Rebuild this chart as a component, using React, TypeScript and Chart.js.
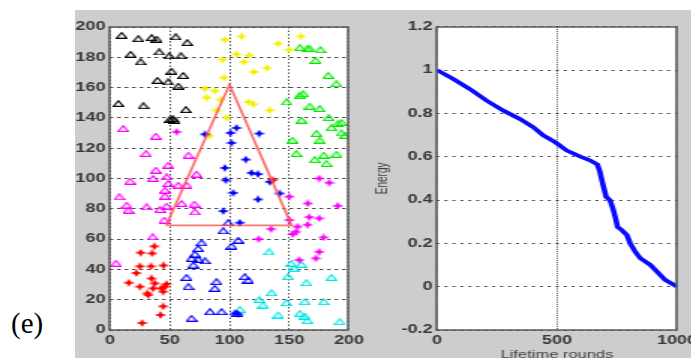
import React, { useEffect, useRef } from 'react';
import { Chart, registerables } from 'chart.js';
Chart.register(...registerables);

// ---------- data (left: node map, right: energy curve) ----------
const blackTriangles = [[9.7,194.5],[23.7,192.3],[34.8,193],[39,192],[55,193.5],[64.6,189.7],[17.3,182],[25.6,177],[41.2,183.5],[49.6,181],[59.3,181],[51.5,170.8],[61.3,168],[39.6,164.8],[48.7,163.7],[57.1,161],[7,149.5],[27.9,148],[63.5,145.5],[50.1,139],[52.5,139.5],[54,138.5]];
const magentaTriangles = [[11.1,133],[38.2,127.9],[30.1,116.5],[38.4,105.5],[48.7,108.8],[65.5,115.4],[72.4,102.9],[16.7,98.2],[36.1,100],[47.4,101.1],[48.7,96.7],[57.1,95.6],[64,95.6],[46,92.3],[46,88.4],[7.8,87.9],[13.9,82.4],[15.3,79.1],[30.6,81.3],[41.8,79.6],[47.4,81.8],[59.9,83.5],[70.5,83.1],[71,78],[45.4,72.5],[35.7,61.5],[5,44]];
const magentaStars = [[55.7,130.8],[150,88],[175,100],[183.5,97.2],[190.5,82],[165.5,83.5],[166.7,74.5],[175,73.7],[165.3,69.5],[156.9,68.2],[155.6,64.8],[152.8,63.3],[150,72.6],[134.7,66.6],[124.4,60],[178.6,61.1],[175,51.6],[172.2,47.3],[158.3,46.2]];
const redStars = [[37,55.2],[25.7,51],[35.2,50.6],[25,42],[34.3,42],[44.7,42.6],[22,37.6],[34.7,34],[15.7,31.2],[37.5,30.8],[45.8,28.6],[47.2,30.3],[43,27.5],[25,28.6],[36.1,27.5],[31.2,24.2],[44.4,25.3],[31.9,23.1],[44.4,15.6],[42.2,9.9],[26.8,4.6],[136,99]];
const blueTriangles = [[98.9,70.8],[94.7,65.5],[107.2,59.3],[101.7,55.4],[76.6,57.6],[73.8,53.8],[71,50.1],[68.2,47.3],[73.8,46.6],[79.4,45.7],[69.6,42.9],[64,34.7],[65.5,28.6],[89.1,31.9],[87.7,27.5],[112.8,35.2],[115.6,33],[83.6,12.1],[93.3,12.1],[105.8,11],[68.2,7.7]];
const blueStars = [[79.4,129.2],[105.8,133.4],[100.8,130.1],[101.7,123.5],[124.8,129.7],[113.6,112.5],[96.1,107],[118.4,103.7],[123.9,102.9],[96.9,98.9],[133.7,97.8],[103.1,90.5],[123.9,86.2],[142,90.1],[94.7,78.5],[108.6,70.8],[104.5,11],[107,10.5]];
const yellowStars = [[96.1,191.6],[110,193.8],[140.7,189],[149.9,185],[159.6,193.8],[94.2,178.5],[105.8,182],[116.4,181.3],[112,176.9],[120.3,170.3],[131.5,173],[95.3,166.6],[79.4,159.3],[87.7,157.8],[80.8,153.4],[89.1,145],[115.9,150.5],[120,149],[133.7,145],[97.5,140.2],[83,128.1],[92.5,152]];
const greenTriangles = [[158.8,186.4],[164.9,185.7],[167.1,185.7],[176,185],[172.1,178],[182.5,168],[189.4,162.6],[158.8,155],[161.6,156],[147.6,150.5],[167.1,147.7],[175.5,146.2],[160.2,138.5],[183,140.2],[190.8,136.3],[185.2,133.6],[172.7,129.7],[193.6,130.1],[196.4,128.6],[152.6,125.3],[175.5,125.3],[155.9,116.5],[189.4,116],[178.8,115.4],[171.3,112.5],[181,109.9],[193.6,137]];
const cyanTriangles = [[133.1,51.6],[151.8,44],[153.6,40.7],[160.2,43.3],[149,35.2],[164.3,31.2],[185.2,34.7],[135,24.6],[124.8,20.2],[128.1,16.5],[147.6,18],[163,18.7],[178.8,18.7],[140.7,9.9],[158.8,11],[163,9.2],[165,6.2],[192.2,5.5],[108.6,13.6]];
const regionTriangle = [[47,69],[100,162],[152,69],[47,69]];

const rounds = [0,67,137,206,276,345,401,443,492,540,596,638,668,677,687,694,705,721,735,746,752,770,791,805,826,847,889,916,951,993,1000];
const energy = [1,0.959,0.912,0.859,0.813,0.774,0.736,0.698,0.667,0.629,0.601,0.583,0.564,0.537,0.491,0.46,0.414,0.399,0.353,0.307,0.276,0.261,0.238,0.2,0.161,0.131,0.1,0.07,0.031,0.005,0];

const leftXTicks = [0, 50, 100, 150, 200];
const leftYTicks = [0, 20, 40, 60, 80, 100, 120, 140, 160, 180, 200];
const rightXTicks = [0, 500, 1000];
const rightYTicks = [-0.2, 0, 0.2, 0.4, 0.6, 0.8, 1, 1.2];

// ---------- styling helpers ----------
const SX = 1.5;
const tickFont = { family: '"Liberation Sans", Arial, sans-serif', size: 12, weight: 'bold' as const };
const tickColor = '#383838';

function makeTriangle(color: string) {
  const c = document.createElement('canvas');
  c.width = 8; c.height = 7;
  const g = c.getContext('2d')!;
  g.strokeStyle = color; g.lineWidth = 1.2;
  g.beginPath(); g.moveTo(0.7, 6.3); g.lineTo(4, 0.8); g.lineTo(7.3, 6.3); g.closePath(); g.stroke();
  return c;
}
function makeStar(color: string) {
  const c = document.createElement('canvas');
  c.width = 8; c.height = 8;
  const g = c.getContext('2d')!;
  g.fillStyle = color;
  g.beginPath();
  for (let i = 0; i < 8; i++) {
    const a = (i * Math.PI) / 4 - Math.PI / 2;
    const r = i % 2 === 0 ? 4 : 1.7;
    g.lineTo(4 + r * Math.cos(a), 4 + r * Math.sin(a));
  }
  g.closePath(); g.fill();
  return c;
}

const frame = {
  id: 'frame',
  beforeDraw(chart: any) {
    const { ctx, chartArea: a } = chart;
    ctx.save(); ctx.fillStyle = '#ffffff';
    ctx.fillRect(a.left, a.top, a.right - a.left, a.bottom - a.top);
    ctx.restore();
  },
  afterDatasetsDraw(chart: any) {
    const { ctx, chartArea: a } = chart;
    ctx.save();
    ctx.setLineDash([]);
    ctx.strokeStyle = '#5a5a5a'; ctx.lineWidth = 1.5;
    ctx.strokeRect(Math.round(a.left), Math.round(a.top), Math.round(a.right - a.left), Math.round(a.bottom - a.top));
    ctx.restore();
  },
};

const pts = (arr: number[][]) => arr.map(([x, y]) => ({ x, y }));
const fixedTicks = (list: number[]) => (axis: any) => { axis.ticks = list.map((v) => ({ value: v })); };
const fmt = (v: any) => String(Number(Number(v).toFixed(1)));

export default function App() {
  const leftRef = useRef<HTMLCanvasElement>(null);
  const rightRef = useRef<HTMLCanvasElement>(null);

  useEffect(() => {
    const sc = (data: number[][], style: any) => ({
      type: 'scatter', data: pts(data), pointStyle: style, pointRadius: 4, showLine: false,
    });
    const gridStyle = { color: 'rgba(0,0,0,0.7)', lineWidth: 1, drawTicks: false };

    const left = new Chart(leftRef.current!, {
      type: 'scatter',
      data: {
        datasets: [
          { type: 'scatter', data: pts(regionTriangle), showLine: true, borderColor: 'rgba(255,80,80,0.8)', borderWidth: 1.8, pointRadius: 0, tension: 0 },
          sc(redStars, makeStar('#ff0000')),
          sc(blueStars, makeStar('#0000ff')),
          sc(yellowStars, makeStar('#f2f200')),
          sc(magentaStars, makeStar('#ff00ff')),
          sc(blackTriangles, makeTriangle('#000000')),
          sc(magentaTriangles, makeTriangle('#ff00ff')),
          sc(blueTriangles, makeTriangle('#0000ff')),
          sc(greenTriangles, makeTriangle('#00ee00')),
          sc(cyanTriangles, makeTriangle('#00e8e8')),
        ] as any,
      },
      options: {
        responsive: false, animation: false, devicePixelRatio: 1,
        layout: { padding: { top: 17, right: 200 - 182.7, bottom: 0, left: 0 } },
        plugins: { legend: { display: false }, tooltip: { enabled: false } },
        scales: {
          x: {
            type: 'linear', min: 0, max: 200,
            afterBuildTicks: fixedTicks(leftXTicks),
            afterFit: (s: any) => { s.height = 28; },
            grid: gridStyle,
            border: { display: false, dash: [1.5, 2] },
            ticks: { font: tickFont, color: tickColor, padding: 3, maxRotation: 0, autoSkip: false, callback: fmt },
          },
          y: {
            type: 'linear', min: 0, max: 200,
            afterBuildTicks: fixedTicks(leftYTicks),
            afterFit: (s: any) => { s.width = (110 - 75) / SX; },
            grid: gridStyle,
            border: { display: false, dash: [2.5, 2.5] },
            ticks: { font: tickFont, color: tickColor, padding: 3, autoSkip: false, callback: fmt },
          },
        },
      } as any,
      plugins: [frame],
    });

    const right = new Chart(rightRef.current!, {
      type: 'scatter',
      data: {
        datasets: [
          { type: 'scatter', data: rounds.map((r, i) => ({ x: r, y: energy[i] })), showLine: true, borderColor: '#0a0aff', borderWidth: 3.6, pointRadius: 0, tension: 0 },
        ] as any,
      },
      options: {
        responsive: false, animation: false, devicePixelRatio: 1,
        layout: { padding: { top: 16.7, right: 240 - (677 - 360) / SX, bottom: 0, left: 0 } },
        plugins: { legend: { display: false }, tooltip: { enabled: false } },
        scales: {
          x: {
            type: 'linear', min: 0, max: 1000,
            afterBuildTicks: fixedTicks(rightXTicks),
            afterFit: (s: any) => { s.height = 35; },
            grid: gridStyle,
            border: { display: false, dash: [1, 1.2] },
            ticks: { font: tickFont, color: tickColor, padding: 3, maxRotation: 0, autoSkip: false, callback: fmt },
            title: { display: true, text: 'Lifetime rounds', color: '#444', font: { family: '"Liberation Sans", Arial, sans-serif', size: 11 }, padding: { top: 0, bottom: 3.4 } },
          },
          y: {
            type: 'linear', min: -0.2, max: 1.2,
            afterBuildTicks: fixedTicks(rightYTicks),
            afterFit: (s: any) => { s.width = (437 - 360) / SX; },
            grid: gridStyle,
            border: { display: false, dash: [2, 3.3] },
            ticks: { font: tickFont, color: tickColor, padding: 3, autoSkip: false, callback: fmt },
            title: { display: true, text: 'Energy', color: '#444', font: { family: '"Liberation Sans", Arial, sans-serif', size: 10 }, padding: { top: 9.3, bottom: 0 } },
          },
        },
      } as any,
      plugins: [frame],
    });

    return () => { left.destroy(); right.destroy(); };
  }, []);

  return (
    <div style={{ position: 'fixed', left: 0, top: 0, width: 691, height: 358, overflow: 'hidden', background: '#ffffff' }}>
      <div style={{ position: 'absolute', left: 75, top: 10, right: 0, bottom: 0, background: '#cdcdcd' }} />
      <div style={{ position: 'absolute', left: 11, top: 309, fontFamily: '"Liberation Serif", "Times New Roman", serif', fontSize: 29, lineHeight: 1, color: '#000' }}>(e)</div>
      <canvas ref={leftRef} width={200} height={348}
        style={{ position: 'absolute', left: 75, top: 10, width: 200, height: 348, transform: `scaleX(${SX})`, transformOrigin: '0 0' }} />
      <canvas ref={rightRef} width={240} height={355}
        style={{ position: 'absolute', left: 360, top: 10, width: 240, height: 355, transform: `scaleX(${SX})`, transformOrigin: '0 0' }} />
    </div>
  );
}
